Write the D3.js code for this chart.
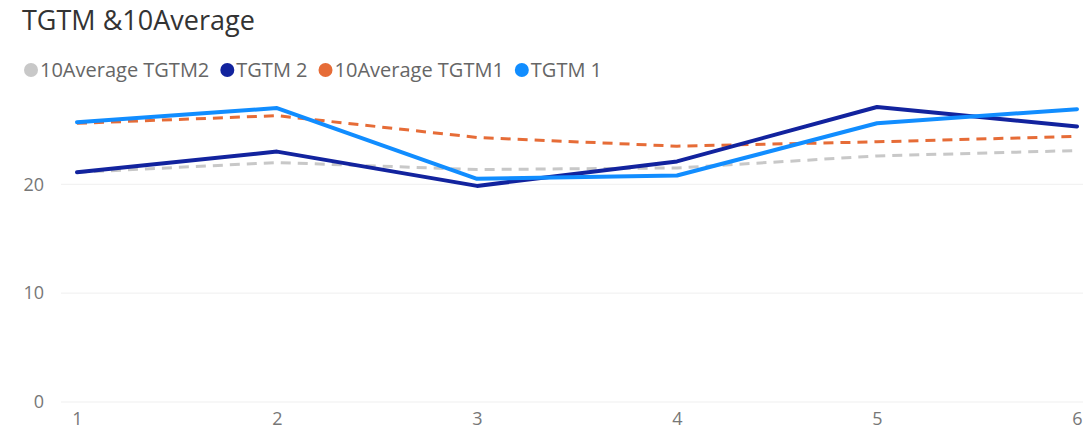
<!DOCTYPE html>
<html>
<head>
<meta charset="utf-8">
<script src="https://cdn.jsdelivr.net/npm/d3@7"></script>
<style>
  html, body { margin: 0; padding: 0; background: #fff; }
  svg { display: block; }
  text { font-family: "Open Sans", "Noto Sans", sans-serif; }
</style>
</head>
<body>
<svg id="chart" width="1083" height="432"></svg>
<script>
const categories = [1, 2, 3, 4, 5, 6];
const avgTGTM2 = [21.1, 22.0, 21.35, 21.5, 22.6, 23.1];
const tgtm2 = [21.1, 23.0, 19.85, 22.1, 27.1, 25.3];
const avgTGTM1 = [25.6, 26.3, 24.3, 23.5, 23.9, 24.4];
const tgtm1 = [25.7, 27.0, 20.5, 20.8, 25.6, 26.9];
const yTicks = [0, 10, 20];
const seriesNames = ["10Average TGTM2", "TGTM 2", "10Average TGTM1", "TGTM 1"];
const seriesColors = ["#C8C8C8", "#12239E", "#E66C37", "#118DFF"];

const series = [
  { name: seriesNames[0], values: avgTGTM2, color: seriesColors[0], dashed: true },
  { name: seriesNames[1], values: tgtm2, color: seriesColors[1], dashed: false },
  { name: seriesNames[2], values: avgTGTM1, color: seriesColors[2], dashed: true },
  { name: seriesNames[3], values: tgtm1, color: seriesColors[3], dashed: false }
];
const drawOrder = [0, 2, 1, 3];

const svg = d3.select("#chart");

const x = d3.scalePoint().domain(categories).range([77, 1077]);
const y = d3.scaleLinear().domain([0, 28.2]).range([402, 95]);

// Title
svg.append("text")
  .attr("x", 22).attr("y", 30)
  .attr("font-size", 27)
  .attr("fill", "#333333")
  .text("TGTM &10Average");

// Legend
const legend = svg.append("g");
let lx = 31;
series.forEach((s, i) => {
  const g = legend.append("g");
  g.append("circle").attr("cx", lx).attr("cy", 70).attr("r", 7).attr("fill", s.color);
  const t = g.append("text").attr("x", lx + 9).attr("y", 77)
    .attr("font-size", 20).attr("fill", "#666666").text(s.name);
  lx = lx + 9 + t.node().getComputedTextLength() + 18;
});

// Grid lines
const grid = svg.append("g");
grid.selectAll("line").data(yTicks).join("line")
  .attr("x1", 61).attr("x2", 1083)
  .attr("y1", d => y(d)).attr("y2", d => y(d))
  .attr("stroke", "#EFEFEF").attr("stroke-width", 1);

// Y axis labels
const yAxis = d3.axisLeft(y).tickValues(yTicks).tickSize(0).tickPadding(0);
svg.append("g").attr("transform", "translate(44,0)").call(yAxis)
  .call(g => g.select(".domain").remove())
  .call(g => g.selectAll("text").attr("font-size", 18).attr("fill", "#777777")
    .attr("font-family", "'Open Sans', 'Noto Sans', sans-serif"));

// X axis labels
const xAxis = d3.axisBottom(x).tickSize(0).tickPadding(0);
svg.append("g").attr("transform", "translate(0,412)").call(xAxis)
  .call(g => g.select(".domain").remove())
  .call(g => g.selectAll("text").attr("font-size", 18).attr("fill", "#777777")
    .attr("font-family", "'Open Sans', 'Noto Sans', sans-serif"));

// Lines
const line = d3.line().x((d, i) => x(categories[i])).y(d => y(d));
drawOrder.forEach(i => {
  const s = series[i];
  svg.append("path")
    .attr("d", line(s.values))
    .attr("fill", "none")
    .attr("stroke", s.color)
    .attr("stroke-width", s.dashed ? 3 : 4)
    .attr("stroke-linejoin", "round")
    .attr("stroke-linecap", s.dashed ? "butt" : "round")
    .attr("stroke-dasharray", s.dashed ? "10,7" : null);
});
</script>
</body>
</html>
